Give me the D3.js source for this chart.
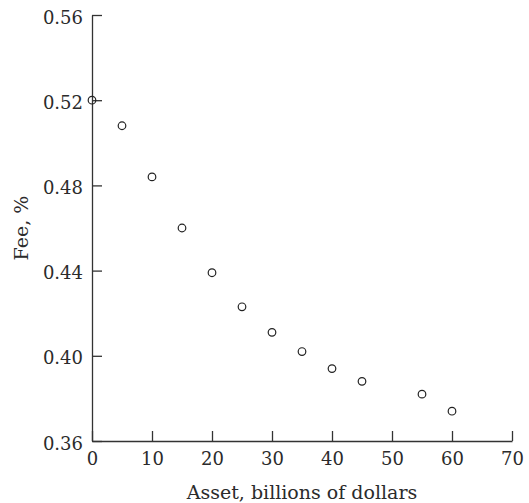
<!DOCTYPE html>
<html>
<head>
<meta charset="utf-8">
<script src="https://cdn.jsdelivr.net/npm/d3@7"></script>
<style>
  body { margin: 0; background: #fff; }
  text { font-family: "DejaVu Serif", serif; fill: #2b2b2b; }
</style>
</head>
<body>
<div id="chart"></div>
<script>
// asset size (billions of dollars) and fee (%)
var assets = [0, 5, 10, 15, 20, 25, 30, 35, 40, 45, 55, 60];
var fees = [0.520, 0.508, 0.484, 0.460, 0.439, 0.423, 0.411, 0.402, 0.394, 0.388, 0.382, 0.374];

var xTicks = [0, 10, 20, 30, 40, 50, 60, 70];
var yTicks = [0.36, 0.40, 0.44, 0.48, 0.52, 0.56];

var width = 529, height = 503;
var margin = {top: 15, right: 17, bottom: 62, left: 92};

var svg = d3.select("#chart").append("svg")
  .attr("width", width)
  .attr("height", height);

var x = d3.scaleLinear().domain([0, 70]).range([margin.left, width - margin.right]);
var y = d3.scaleLinear().domain([0.36, 0.56]).range([height - margin.bottom, margin.top]);

var axisColor = "#333";

// x axis, ticks pointing up into the plot
var gx = svg.append("g")
  .attr("transform", "translate(0," + y(0.36) + ")")
  .call(d3.axisBottom(x).tickValues(xTicks).tickSizeInner(-10).tickSizeOuter(0).tickPadding(11)
    .tickFormat(d3.format("d")));

// y axis, ticks pointing right into the plot
var gy = svg.append("g")
  .attr("transform", "translate(" + x(0) + ",0)")
  .call(d3.axisLeft(y).tickValues(yTicks).tickSizeInner(-10).tickSizeOuter(0).tickPadding(9)
    .tickFormat(d3.format(".2f")));

[gx, gy].forEach(function(g) {
  g.select(".domain").attr("stroke", axisColor).attr("stroke-width", 1.3);
  g.selectAll(".tick line").attr("stroke", axisColor).attr("stroke-width", 1.3);
  g.selectAll(".tick text")
    .attr("fill", "#2b2b2b")
    .style("font-family", "DejaVu Serif, serif")
    .style("font-size", "18px");
});
gy.selectAll(".tick text").attr("dy", "0.45em");

// axis titles
svg.append("text")
  .attr("x", (x(0) + x(70)) / 2)
  .attr("y", 499)
  .attr("text-anchor", "middle")
  .style("font-size", "19px")
  .text("Asset, billions of dollars");

svg.append("text")
  .attr("transform", "translate(28," + (y(0.36) + y(0.56)) / 2 + ") rotate(-90)")
  .attr("text-anchor", "middle")
  .style("font-size", "19px")
  .text("Fee, %");

// data points
svg.selectAll("circle.pt")
  .data(assets)
  .enter()
  .append("circle")
  .attr("class", "pt")
  .attr("cx", function(d) { return x(d); })
  .attr("cy", function(d, i) { return y(fees[i]); })
  .attr("r", 3.8)
  .attr("fill", "none")
  .attr("stroke", "#222")
  .attr("stroke-width", 1.2);
</script>
</body>
</html>
